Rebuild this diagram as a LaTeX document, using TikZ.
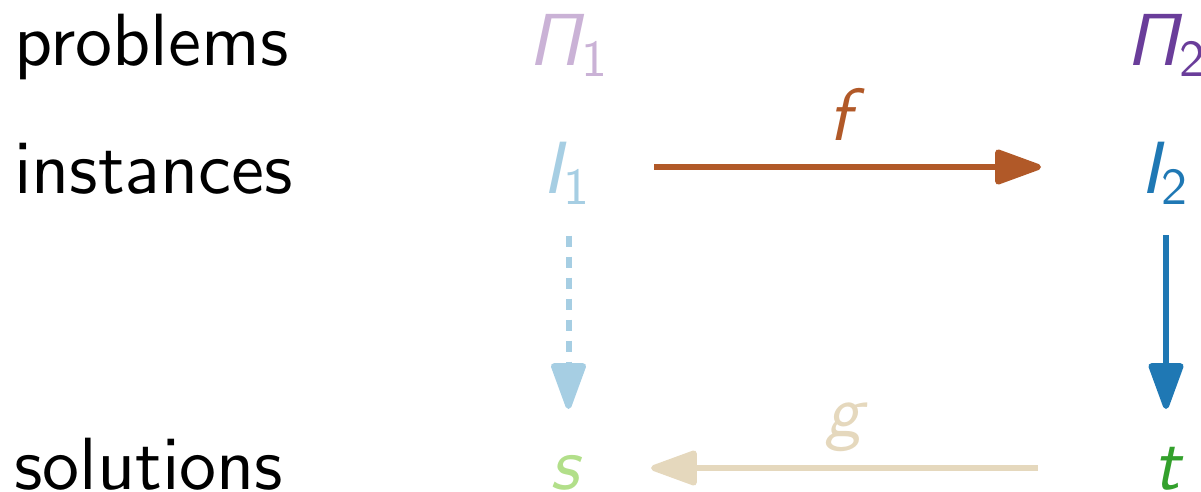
\RequirePackage{fix-cm}
\documentclass[tikz,border=0pt]{standalone}
\usetikzlibrary{arrows.meta}
\DeclareFontFamily{OT1}{cmssx}{}
\DeclareFontShape{OT1}{cmssx}{m}{n}{<-> cmss10}{}
\DeclareFontShape{OT1}{cmssx}{m}{sl}{<-> cmssi10}{}
\DeclareMathAlphabet{\mathsfit}{OT1}{cmssx}{m}{sl}
\DeclareMathAlphabet{\mathsfx}{OT1}{cmssx}{m}{n}
\definecolor{cPa}{HTML}{CAB2D6}
\definecolor{cPb}{HTML}{6A3D9A}
\definecolor{cIa}{HTML}{A6CEE3}
\definecolor{cIb}{HTML}{1F78B4}
\definecolor{cSa}{HTML}{B2DF8A}
\definecolor{cSb}{HTML}{33A02C}
\definecolor{cF}{HTML}{B15928}
\definecolor{cG}{HTML}{E5D8BD}
\tikzset{
  lbl/.style={inner sep=0pt, anchor=base west, font=\fontencoding{OT1}\fontfamily{cmssx}\fontsize{74}{80}\selectfont},
  mth/.style={inner sep=0pt, anchor=base, font=\fontsize{74}{80}\selectfont},
  conn/.style={line width=6pt, line cap=butt, -{Triangle[length=52pt,width=36pt,round]}},
}
\begin{document}
\begin{tikzpicture}[x=1pt,y=-1pt]
\useasboundingbox (0,0) rectangle (1201,492);
% row labels
\node[lbl] (lp) at (14,65.5) {problems};
\node[lbl] (li) at (14,193) {instances};
\node[lbl] (ls) at (14,489) {solutions};
% column 1
\node[mth, text=cPa] (P1) at (568,65.5) {$\mathsfit{\Pi}_{\mathsfx{1}}$};
\node[mth, text=cIa] (I1) at (566,193) {$\mathsfit{I}_{\mathsfx{1}}$};
\node[mth, text=cSa] (s) at (568,489) {$\mathsfit{s}$};
% column 2
\node[mth, text=cPb] (P2) at (1166,65.5) {$\mathsfit{\Pi}_{\mathsfx{2}}$};
\node[mth, text=cIb] (I2) at (1164,193) {$\mathsfit{I}_{\mathsfx{2}}$};
\node[mth, text=cSb] (t) at (1170,489) {$\mathsfit{t}$};
% connectors
\draw[conn, cF] ([shift={(88,-26)}]I1.base) --
  node[mth, text=cF, pos=0.5, shift={(0,-27)}] (fl) {$\mathsfit{f}$}
  ([shift={(-123,-26)}]I2.base);
\draw[conn, cIa, dash pattern=on 11pt off 10pt] ([shift={(2.5,42.7)}]I1.base) -- ([shift={(0.5,-80)}]s.base);
\draw[conn, cIb] ([shift={(2,42)}]I2.base) -- ([shift={(-4,-80)}]t.base);
\draw[conn, cG] ([shift={(-132,-21)}]t.base) --
  node[mth, text=cG, pos=0.5, shift={(3,-32)}] (gl) {$\mathsfit{g}$}
  ([shift={(83,-21)}]s.base);
\end{tikzpicture}
\end{document}
